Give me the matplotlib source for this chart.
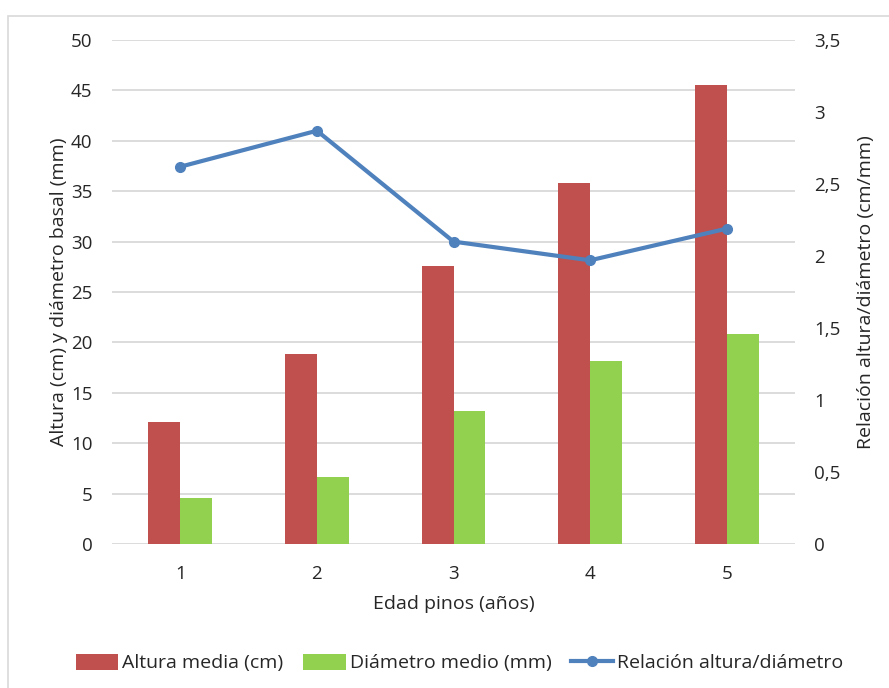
import matplotlib.pyplot as plt
from matplotlib.patches import Rectangle
import numpy as np

# Data
edades = ["1", "2", "3", "4", "5"]
altura_media = [12.1, 18.8, 27.6, 35.8, 45.5]
diametro_medio = [4.6, 6.6, 13.2, 18.2, 20.8]
relacion = [2.62, 2.87, 2.10, 1.97, 2.19]

left_ticks = [0, 5, 10, 15, 20, 25, 30, 35, 40, 45, 50]
right_ticks = [0, 0.5, 1, 1.5, 2, 2.5, 3, 3.5]
right_labels = ["0", "0,5", "1", "1,5", "2", "2,5", "3", "3,5"]

RED = "#C0504D"
GREEN = "#92D050"
BLUE = "#4F81BD"
GRID = "#D9D9D9"
TXT = "#262626"
FS = 14      # axis titles / legend
FT = 13.5    # tick labels

plt.rcParams['font.family'] = ['Open Sans', 'DejaVu Sans']

fig = plt.figure(figsize=(8.89, 6.88), dpi=100)
# outer chart frame
fig.patches.append(Rectangle((8 / 889, -0.1), 1.1, (688 - 16) / 688 + 0.1,
                             transform=fig.transFigure, fill=False,
                             edgecolor="#D9D9D9", linewidth=1.2))

ax = fig.add_axes([112 / 889, (688 - 544) / 688, (795 - 112) / 889, (544 - 40) / 688])
x = np.arange(len(edades))
w = 0.234
b1 = ax.bar(x - w / 2, altura_media, w, color=RED, label="Altura media (cm)", zorder=2)
b2 = ax.bar(x + w / 2, diametro_medio, w, color=GREEN, label="Diámetro medio (mm)", zorder=2)

ax.set_xlim(-0.5, len(edades) - 0.5)
ax.set_ylim(0, 50)
ax.set_yticks(left_ticks)
ax.set_xticks(x)
ax.set_xticklabels(edades)
ax.yaxis.grid(True, color=GRID, linewidth=1.3)
ax.set_axisbelow(True)
for s in ax.spines.values():
    s.set_visible(False)
ax.tick_params(length=0, labelsize=FT, labelcolor=TXT)
ax.tick_params(axis='y', pad=14)
ax.tick_params(axis='x', pad=15)
ax.set_xlabel("Edad pinos (años)", fontsize=FS, color=TXT, labelpad=9)
ax.set_ylabel("Altura (cm) y diámetro basal (mm)", fontsize=FS, color=TXT, labelpad=2)

ax2 = ax.twinx()
ln, = ax2.plot(x, relacion, color=BLUE, linewidth=3, marker="o", markersize=7,
               label="Relación altura/diámetro")
ax2.set_ylim(0, 3.5)
ax2.set_yticks(right_ticks)
ax2.set_yticklabels(right_labels)
for s in ax2.spines.values():
    s.set_visible(False)
ax2.tick_params(length=0, labelsize=FT, labelcolor=TXT, pad=14)
ax2.set_ylabel("Relación altura/diámetro (cm/mm)", fontsize=FS, color=TXT, labelpad=12)

fig.legend(handles=[b1, b2, ln], loc="center", bbox_to_anchor=(0.517, (688 - 663) / 688),
           ncol=3, frameon=False, fontsize=FS, handlelength=2.2, handleheight=0.9,
           handletextpad=0.2, columnspacing=1.0, labelcolor=TXT)

fig.savefig("out.png", dpi=100)
